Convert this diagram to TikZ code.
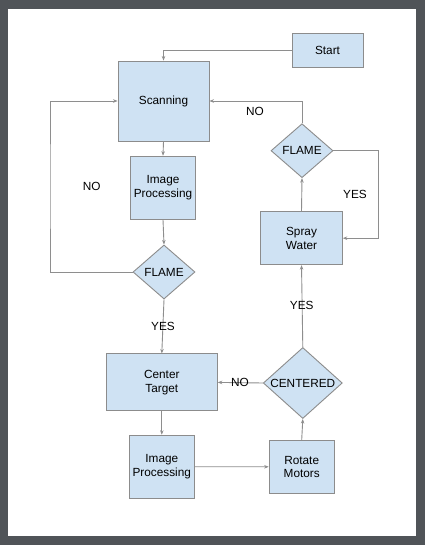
\documentclass[tikz,border=0pt]{standalone}
\usepackage{fontspec}
\setmainfont{Liberation Sans}
\usetikzlibrary{shapes.geometric,arrows.meta}
\definecolor{bgdark}{HTML}{505458}
\definecolor{boxfill}{HTML}{CFE2F3}
\definecolor{boxline}{HTML}{8C8C8C}
\definecolor{conn}{HTML}{8E8E8E}
\tikzset{
  every node/.style={font=\fontsize{11.8}{13.5}\selectfont, text=black},
  procbox/.style={draw=boxline, fill=boxfill, line width=0.9pt, inner sep=0pt, align=center},
  dia/.style={diamond, draw=boxline, fill=boxfill, line width=0.9pt, inner sep=0pt},
  arr/.style={draw=conn, line width=0.9pt, -{Stealth[length=4.5pt,width=3.5pt]}},
  lbl/.style={inner sep=0pt}
}
\begin{document}
\begin{tikzpicture}[x=1pt,y=-1pt]
\fill[bgdark] (0,0) rectangle (425,545);
\fill[white] (8,9) rectangle (416,536);
\useasboundingbox (0,0) rectangle (425,545);

\node[procbox, minimum width=71pt, minimum height=34pt] (start) at (327.5,50) {Start};
\node[procbox, minimum width=91pt, minimum height=80pt] (scan) at (163.5,101) {Scanning};
\node[procbox, minimum width=65pt, minimum height=63pt] (ip1) at (163,187.7) {Image\\Processing};
\node[dia, minimum width=62pt, minimum height=54pt] (flame1) at (164,272) {};
\node[lbl] (flame1t) at (flame1) {FLAME};
\node[dia, minimum width=62pt, minimum height=54pt] (flame2) at (302,150.7) {};
\node[lbl] (flame2t) at (flame2) {FLAME};
\node[procbox, minimum width=81.6pt, minimum height=53pt] (spray) at (301.5,238.2) {Spray\\Water};
\node[procbox, minimum width=111pt, minimum height=57pt] (ct) at (161.8,382.4) {Center\\Target};
\node[dia, minimum width=79pt, minimum height=71pt] (centered) at (302.8,383) {};
\node[lbl] (centeredt) at (centered) {CENTERED};
\node[procbox, minimum width=65pt, minimum height=63pt] (ip2) at (161.8,466.7) {Image\\Processing};
\node[procbox, minimum width=65pt, minimum height=53pt] (rot) at (301.7,466.8) {Rotate\\Motors};

\coordinate (loopL) at (50,186);
\coordinate (loopR) at (378.3,194);

\draw[arr] (start.west) -| (scan.north);
\draw[arr] (scan.south) -- (ip1.north);
\draw[arr] (ip1.south) -- (flame1.north);
\draw[arr] (flame1.west) -| (loopL) |- (scan.west);
\draw[arr] (flame2.north) |- (scan.east);
\draw[arr] (flame2.east) -| (loopR) |- (spray.east);
\draw[arr] (spray.north) -- (flame2.south);
\draw[arr] (centered.north) -- (spray.south);
\draw[arr] (centered.west) -- (ct.east);
\draw[arr] (flame1.south) -- (ct.north);
\draw[arr] (ct.south) -- (ip2.north);
\draw[arr] (ip2.east) -- (rot.west);
\draw[arr] (rot.north) -- (centered.south);

\node[lbl] (no1) at (255,111) {NO};
\node[lbl] (no2) at (91.7,186.7) {NO};
\node[lbl] (yes1) at (355,194.3) {YES};
\node[lbl] (yes2) at (301.7,305.7) {YES};
\node[lbl] (yes3) at (163,326) {YES};
\node[lbl] (no3) at (240,382.7) {NO};
\end{tikzpicture}
\end{document}
